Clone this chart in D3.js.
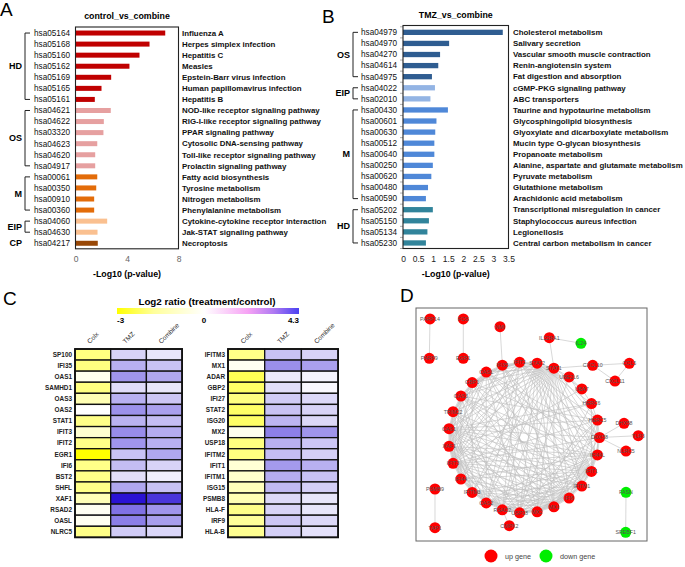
<!DOCTYPE html>
<html>
<head>
<meta charset="utf-8">
<script src="https://cdn.jsdelivr.net/npm/d3@7"></script>
<style>
  body { margin: 0; background: #fff; }
  svg { display: block; }
  text { font-family: "Liberation Sans", Arial, sans-serif; }
</style>
</head>
<body>
<svg id="fig" width="685" height="567"></svg>
<script>
// ---------- panel A : control_vs_combine ----------
const aIds = ["hsa05164","hsa05168","hsa05160","hsa05162","hsa05169","hsa05165","hsa05161",
  "hsa04621","hsa04622","hsa03320","hsa04623","hsa04620","hsa04917",
  "hsa00061","hsa00350","hsa00910","hsa00360","hsa04060","hsa04630","hsa04217"];
const aNames = ["Influenza A","Herpes simplex infection","Hepatitis C","Measles",
  "Epstein-Barr virus infection","Human papillomavirus infection","Hepatitis B",
  "NOD-like receptor signaling pathway","RIG-I-like receptor signaling pathway","PPAR signaling pathway",
  "Cytosolic DNA-sensing pathway","Toll-like receptor signaling pathway","Prolactin signaling pathway",
  "Fatty acid biosynthesis","Tyrosine metabolism","Nitrogen metabolism","Phenylalanine metabolism",
  "Cytokine-cytokine receptor interaction","Jak-STAT signaling pathway","Necroptosis"];
const aValues = [6.97, 5.75, 4.97, 4.19, 2.77, 2.02, 1.50, 2.74, 2.20, 2.17, 1.69, 1.53, 1.53,
  1.69, 1.61, 1.45, 1.45, 2.46, 1.71, 1.73];
const aGroups = ["HD","OS","M","EIP","CP"];
const aGroupSizes = [7, 6, 4, 2, 1];
const aColors = ["#c00000","#e6a0a0","#e36c09","#fac090","#984807"];
const aTicks = [0, 4, 8];

// ---------- panel B : TMZ_vs_combine ----------
const bIds = ["hsa04979","hsa04970","hsa04270","hsa04614","hsa04975","hsa04022","hsa02010",
  "hsa00430","hsa00601","hsa00630","hsa00512","hsa00640","hsa00250","hsa00620","hsa00480","hsa00590",
  "hsa05202","hsa05150","hsa05134","hsa05230"];
const bNames = ["Cholesterol metabolism","Salivary secretion","Vascular smooth muscle contraction",
  "Renin-angiotensin system","Fat digestion and absorption","cGMP-PKG signaling pathway","ABC transporters",
  "Taurine and hypotaurine metabolism","Glycosphingolipid biosynthesis","Glyoxylate and dicarboxylate metabolism",
  "Mucin type O-glycan biosynthesis","Propanoate metabolism","Alanine, aspartate and glutamate metabolism",
  "Pyruvate metabolism","Glutathione metabolism","Arachidonic acid metabolism",
  "Transcriptional misregulation in cancer","Staphylococcus aureus infection","Legionellosis",
  "Central carbon metabolism in cancer"];
const bValues = [3.31, 1.53, 1.23, 1.17, 0.96, 1.06, 0.91, 1.49, 1.11, 1.07, 1.04, 1.04, 0.99,
  0.94, 0.83, 0.76, 0.99, 0.86, 0.81, 0.76];
const bGroups = ["OS","EIP","M","HD"];
const bGroupSizes = [5, 2, 9, 4];
const bColors = ["#2f5d91","#93b4e4","#4f88d8","#31849b"];
const bTicks = [0, 0.5, 1, 1.5, 2, 2.5, 3, 3.5];

// ---------- panel C : heatmap ----------
const hmCols = ["Colx","TMZ","Combine"];
const leftGenes = ["SP100","IFI35","OAS1","SAMHD1","OAS3","OAS2","STAT1","IFIT3","IFIT2","EGR1",
  "IFI6","BST2","SHFL","XAF1","RSAD2","OASL","NLRC5"];
const leftColx    = [-1.5,-1.5,-0.2,-1.5,-0.9, 0.0,-1.4,-0.55,-1.4,-3.0,-1.4,-1.4,-1.4,-0.85,-0.15,-0.15,-1.4];
const leftTmz     = [0.79,1.43,1.92,0.63,1.43,2.00,1.39,2.08,1.92,1.11,1.19,0.59,1.59,4.30,2.57,2.34,0.95];
const leftCombine = [0.46,1.11,1.59,0.46,1.03,1.72,1.19,1.51,1.43,1.59,0.79,0.30,1.11,3.65,1.92,1.76,0.75];
const rightGenes = ["IFITM3","MX1","ADAR","GBP2","IFI27","STAT2","ISG20","MX2","USP18","IFITM2",
  "IFIT1","IFITM1","ISG15","PSMB8","HLA-F","IRF9","HLA-B"];
const rightColx    = [-1.4,-0.15,-2.0,-1.8,-1.5,-1.8,-1.8,-0.2,-1.5,-1.5,-0.5,-0.6,-0.8,-0.9,-1.4,-1.2,-1.3];
const rightTmz     = [1.11,2.04,0.38,0.60,0.95,1.11,1.35,2.30,1.43,1.19,1.83,1.50,1.27,0.70,0.79,1.03,0.87];
const rightCombine = [0.79,1.72,0.22,0.13,0.70,0.79,0.70,1.92,1.03,0.87,1.43,1.11,0.87,0.46,0.46,0.70,0.55];
const scaleTicks = [-3, 0, 4.3];

// ---------- panel D : network ----------
const ringGenes = ["DDX58","IFI44L","IFIT1","IFITM1","IFI6","MX1","MX2","USP18","RSAD2","OAS2",
  "IFITM3","IFI44","IFIT3","XAF1","OAS1","TRIM22","OAS3","GBP1","OASL","IFI35","IFIT2","STAT2",
  "STAT1","UBE2L6","UBA7","HERC6","HERC5"];
const outerGenes = ["PARP14","PARP9","FOS","EGR1","NMI","IL22RA1","IL24","CXCL10","CCL5","CXCL11",
  "DHX58","TLR3","NLRC5","CMPK2","PSMB9","TAP1","FASN","SREBF1"];
const outerX = [-1.245,-1.254,-0.804,-0.804,-0.318, 0.335, 0.755, 0.910, 1.395, 1.205, 1.325, 1.514, 1.351,-0.195,-1.179,-1.179, 1.351, 1.347];
const outerY = [-1.570,-1.049,-1.570,-1.049,-1.468,-1.322,-1.248,-0.956,-0.983,-0.748,-0.188,-0.024, 0.179, 1.168, 0.682, 1.195, 0.726, 1.256];
const downGenes = ["IL24","FASN","SREBF1"];
const ringLinks = [
  "STAT1:STAT2 IFIT2 IFI35 OASL GBP1 OAS3 TRIM22 OAS1 XAF1 IFIT3 IFI44 IFITM3 OAS2 RSAD2 USP18 MX2 MX1 IFI6 IFITM1 IFIT1 IFI44L DDX58 HERC5 UBE2L6 UBA7",
  "STAT2:IFIT2 IFI35 OASL GBP1 OAS3 OAS1 XAF1 IFIT3 IFITM3 OAS2 RSAD2 USP18 MX2 MX1 IFI6 IFITM1 IFIT1 IFI44L DDX58 HERC6",
  "IFIT2:IFI35 OASL GBP1 OAS1 IFIT3 IFI44 RSAD2 MX1 IFIT1 IFI44L DDX58 HERC5 OAS2",
  "IFI35:OASL GBP1 OAS3 XAF1 IFIT3 MX2 IFI6 IFITM1 IFIT1 USP18",
  "OASL:GBP1 OAS3 OAS1 TRIM22 XAF1 IFIT3 OAS2 MX1 IFIT1 IFI44L DDX58 IFI6 USP18",
  "GBP1:OAS3 TRIM22 OAS1 IFIT3 IFITM3 MX2 IFI6 IFIT1 DDX58",
  "OAS3:TRIM22 OAS1 XAF1 IFIT3 IFI44 OAS2 RSAD2 MX1 IFI6 IFITM1 IFIT1 IFI44L HERC5",
  "TRIM22:OAS1 XAF1 IFIT3 IFITM3 MX1 IFI6 IFIT1 USP18",
  "OAS1:XAF1 IFIT3 IFI44 IFITM3 OAS2 RSAD2 USP18 MX2 MX1 IFI6 IFITM1 IFIT1 IFI44L DDX58 HERC5 HERC6",
  "XAF1:IFIT3 IFI44 IFITM3 OAS2 RSAD2 MX1 IFI6 IFITM1 IFIT1 IFI44L HERC6",
  "IFIT3:IFI44 IFITM3 OAS2 RSAD2 USP18 MX2 MX1 IFI6 IFITM1 IFIT1 IFI44L DDX58 HERC5 UBA7",
  "IFI44:IFITM3 OAS2 RSAD2 MX1 IFI6 IFIT1 IFI44L",
  "IFITM3:OAS2 RSAD2 USP18 MX1 IFI6 IFITM1 IFIT1",
  "OAS2:RSAD2 USP18 MX2 MX1 IFI6 IFITM1 IFIT1 IFI44L DDX58",
  "RSAD2:USP18 MX2 MX1 IFI6 IFITM1 IFIT1 IFI44L HERC5",
  "USP18:MX2 MX1 IFI6 IFIT1 IFI44L HERC5 UBE2L6",
  "MX2:MX1 IFI6 IFITM1 IFIT1 HERC6",
  "MX1:IFI6 IFITM1 IFIT1 IFI44L DDX58 HERC5",
  "IFI6:IFITM1 IFIT1 IFI44L HERC5",
  "IFITM1:IFIT1 IFI44L",
  "IFIT1:IFI44L DDX58 HERC5 HERC6",
  "IFI44L:DDX58 HERC5",
  "DDX58:HERC5",
  "HERC5:HERC6 UBE2L6",
  "HERC6:UBA7",
  "UBA7:UBE2L6"
];
const outerLinks = ["PARP14-PARP9","FOS-EGR1","NMI-IFI35","IL22RA1-IL24","IL22RA1-STAT1","STAT1-CXCL10",
  "CXCL10-CCL5","CCL5-CXCL11","CXCL10-CXCL11","DDX58-DHX58","DDX58-TLR3","DDX58-NLRC5",
  "RSAD2-CMPK2","PSMB9-TAP1","FASN-SREBF1"];

const svg = d3.select("#fig");

// panel letters
[["A", 0, 16], ["B", 322, 23], ["C", 3, 305], ["D", 400, 302]].forEach(([t, x, y]) => {
  svg.append("text").attr("x", x).attr("y", y).attr("font-size", 19).text(t);
});

function pathwayPanel(o) {
  const x = d3.scaleLinear().domain([0, o.max]).range([o.left, o.right]);
  const y = d3.scaleBand().domain(o.ids).range([o.top, o.bottom]);
  const mid = d => y(d) + y.bandwidth() / 2;
  const g = svg.append("g");

  const grp = [];
  o.sizes.forEach((n, i) => { for (let k = 0; k < n; k++) grp.push(i); });

  g.append("text").attr("x", (o.left + o.right) / 2).attr("y", o.titleY)
    .attr("text-anchor", "middle").attr("font-size", 8.8).attr("font-weight", "bold").text(o.title);

  if (o.sideTicks) {
    g.selectAll(".tk").data(o.ids.concat(["end"])).join("line")
      .attr("x1", o.left - 3).attr("x2", o.left)
      .attr("y1", (d, i) => o.top + i * y.step()).attr("y2", (d, i) => o.top + i * y.step())
      .attr("stroke", "#999").attr("stroke-width", 0.8);
  }

  g.selectAll(".bar").data(o.ids).join("rect")
    .attr("x", x(0)).attr("y", d => mid(d) - o.barH / 2)
    .attr("width", (d, i) => x(o.values[i]) - x(0)).attr("height", o.barH)
    .attr("fill", (d, i) => o.colors[grp[i]]);

  g.append("rect").attr("x", o.left).attr("y", o.boxTop)
    .attr("width", o.right - o.left).attr("height", o.bottom - o.boxTop)
    .attr("fill", "none").attr("stroke", "#222").attr("stroke-width", 1.1);

  g.selectAll(".id").data(o.ids).join("text")
    .attr("x", o.idRight).attr("y", mid).attr("dy", "0.35em")
    .attr("text-anchor", "end").attr("font-size", 8.2).attr("fill", "#111").text(d => d);

  g.selectAll(".nm").data(o.names).join("text")
    .attr("x", o.nameX).attr("y", (d, i) => mid(o.ids[i])).attr("dy", "0.35em")
    .attr("font-size", 7.9).attr("font-weight", "bold").attr("fill", "#111").text(d => d);

  let start = 0;
  o.sizes.forEach((n, i) => {
    const ys = mid(o.ids[start]), ye = mid(o.ids[start + n - 1]);
    if (n > 1) {
      g.append("path").attr("d", `M${o.bracketX + 5},${ys}H${o.bracketX}V${ye}H${o.bracketX + 5}`)
        .attr("fill", "none").attr("stroke", "#222").attr("stroke-width", 1);
    }
    g.append("text").attr("x", o.groupRight).attr("y", (ys + ye) / 2).attr("dy", "0.35em")
      .attr("text-anchor", "end").attr("font-size", 9).attr("font-weight", "bold").text(o.groups[i]);
    start += n;
  });

  g.append("g").attr("transform", `translate(0,${o.bottom})`)
    .call(d3.axisBottom(x).tickValues(o.ticks).tickSize(0).tickPadding(7.5).tickFormat(d3.format("~g")))
    .call(a => a.select(".domain").remove())
    .call(a => a.selectAll("text").attr("font-size", 8.5).attr("fill", o.tickColor)
      .attr("font-family", "'Liberation Sans', Arial, sans-serif"));

  g.append("text").attr("x", (o.left + o.right) / 2).attr("y", 277)
    .attr("text-anchor", "middle").attr("font-size", 8.8).attr("font-weight", "bold")
    .text("-Log10 (p-value)");
}

pathwayPanel({
  ids: aIds, names: aNames, values: aValues, groups: aGroups, sizes: aGroupSizes, colors: aColors,
  ticks: aTicks, max: 8, left: 75.5, right: 178.5, boxTop: 27, top: 27.5, bottom: 248.8,
  barH: 5, idRight: 70, bracketX: 25, groupRight: 22, nameX: 182, title: "control_vs_combine",
  titleY: 19, tickColor: "#666", sideTicks: false
});
pathwayPanel({
  ids: bIds, names: bNames, values: bValues, groups: bGroups, sizes: bGroupSizes, colors: bColors,
  ticks: bTicks, max: 3.5, left: 403, right: 508.5, boxTop: 25.5, top: 26.8, bottom: 248.5,
  barH: 5.3, idRight: 397, bracketX: 353, groupRight: 350, nameX: 513, title: "TMZ_vs_combine",
  titleY: 18, tickColor: "#222", sideTicks: true
});

// ---------- heatmap ----------
const heatColor = d3.scaleLinear().domain([-3, 0, 4.3]).range(["#ffff00", "#ffffff", "#2a12d4"]).clamp(true);
const barX = d3.scaleLinear().domain([-3, 0, 4.3]).range([117, 204, 299]);

svg.append("text").attr("x", 207).attr("y", 305).attr("text-anchor", "middle")
  .attr("font-size", 9.8).attr("font-weight", "bold").text("Log2 ratio (treatment/control)");

const grad = svg.append("defs").append("linearGradient").attr("id", "cbar");
const cbStops = [[0, "#ffff00"], [0.2, "#ffff9a"], [0.48, "#ffffff"], [0.72, "#f6a2f4"], [0.86, "#b07af2"], [1, "#4a42f2"]];
grad.selectAll("stop").data(cbStops).join("stop")
  .attr("offset", d => d[0]).attr("stop-color", d => d[1]);
svg.append("rect").attr("x", barX(-3)).attr("y", 308).attr("width", barX(4.3) - barX(-3)).attr("height", 6)
  .attr("fill", "url(#cbar)");
svg.selectAll(".cbt").data(scaleTicks).join("text")
  .attr("x", d => barX(d)).attr("y", 323)
  .attr("text-anchor", (d, i) => i === 0 ? "start" : i === scaleTicks.length - 1 ? "end" : "middle")
  .attr("font-size", 8).attr("font-weight", "bold").text(d => d);

function heatmap(genes, cols, left, cw) {
  const top = 349, rh = 11.08;
  const x = d3.scaleBand().domain(hmCols).range([left, left + cw * 3]);
  const y = d3.scaleBand().domain(genes).range([top, top + rh * genes.length]);
  const g = svg.append("g");
  const cells = [];
  genes.forEach((gn, i) => hmCols.forEach((c, j) => cells.push({ gn, c, v: cols[j][i] })));
  g.selectAll("rect").data(cells).join("rect")
    .attr("x", d => x(d.c)).attr("y", d => y(d.gn))
    .attr("width", x.bandwidth()).attr("height", y.bandwidth())
    .attr("fill", d => heatColor(d.v)).attr("stroke", "#111").attr("stroke-width", 1.3);
  g.append("rect").attr("x", left).attr("y", top).attr("width", cw * 3).attr("height", rh * genes.length)
    .attr("fill", "none").attr("stroke", "#111").attr("stroke-width", 1.8);
  g.selectAll(".gl").data(genes).join("text")
    .attr("x", left - 3).attr("y", d => y(d) + y.bandwidth() / 2).attr("dy", "0.35em")
    .attr("text-anchor", "end").attr("font-size", 6.4).attr("font-weight", "bold").attr("fill", "#222").text(d => d);
  g.selectAll(".cl").data(hmCols).join("text")
    .attr("transform", d => `translate(${x(d) + x.bandwidth() / 2 - 3},${top - 5}) rotate(-45)`)
    .attr("font-size", 6.5).attr("fill", "#222").text(d => d);
}
heatmap(leftGenes, [leftColx, leftTmz, leftCombine], 75, 35.7);
heatmap(rightGenes, [rightColx, rightTmz, rightCombine], 228, 36.7);

// ---------- network ----------
const nx = d3.scaleLinear().domain([-1, 1]).range([448.5, 599.5]);
const ny = d3.scaleLinear().domain([-1, 1]).range([362, 513]);
const angle = d3.scaleLinear().domain([0, ringGenes.length]).range([0, 2 * Math.PI]);
const pos = {};
ringGenes.forEach((gn, i) => { pos[gn] = [Math.cos(angle(i)), Math.sin(angle(i))]; });
outerGenes.forEach((gn, i) => { pos[gn] = [outerX[i], outerY[i]]; });

const links = [];
ringLinks.forEach(line => {
  const [src, rest] = line.split(":");
  rest.split(" ").forEach(t => links.push([src, t]));
});
outerLinks.forEach(s => links.push(s.split("-")));

const gd = svg.append("g");
gd.append("rect").attr("x", 416).attr("y", 308).attr("width", 231).attr("height", 233)
  .attr("fill", "#fff").attr("stroke", "#666").attr("stroke-width", 1);
gd.selectAll("line").data(links).join("line")
  .attr("x1", d => nx(pos[d[0]][0])).attr("y1", d => ny(pos[d[0]][1]))
  .attr("x2", d => nx(pos[d[1]][0])).attr("y2", d => ny(pos[d[1]][1]))
  .attr("stroke", "#bdbdbd").attr("stroke-width", 0.6);
const allGenes = ringGenes.concat(outerGenes);
gd.selectAll("circle").data(allGenes).join("circle")
  .attr("cx", d => nx(pos[d][0])).attr("cy", d => ny(pos[d][1])).attr("r", 5.5)
  .attr("fill", d => downGenes.includes(d) ? "#00ee00" : "#ff0000");
gd.selectAll(".nl").data(allGenes).join("text")
  .attr("x", d => nx(pos[d][0])).attr("y", d => ny(pos[d][1])).attr("dy", "0.35em")
  .attr("text-anchor", "middle").attr("font-size", 5.3).attr("fill", "#555").text(d => d);

// legend
const legend = [["up gene", "#ff0000", 491], ["down gene", "#00ee00", 546]];
legend.forEach(([t, c, x]) => {
  svg.append("circle").attr("cx", x).attr("cy", 556).attr("r", 6.5).attr("fill", c);
  svg.append("text").attr("x", x + 14).attr("y", 556).attr("dy", "0.35em")
    .attr("font-size", 7.2).attr("fill", "#444").text(t);
});
</script>
</body>
</html>
